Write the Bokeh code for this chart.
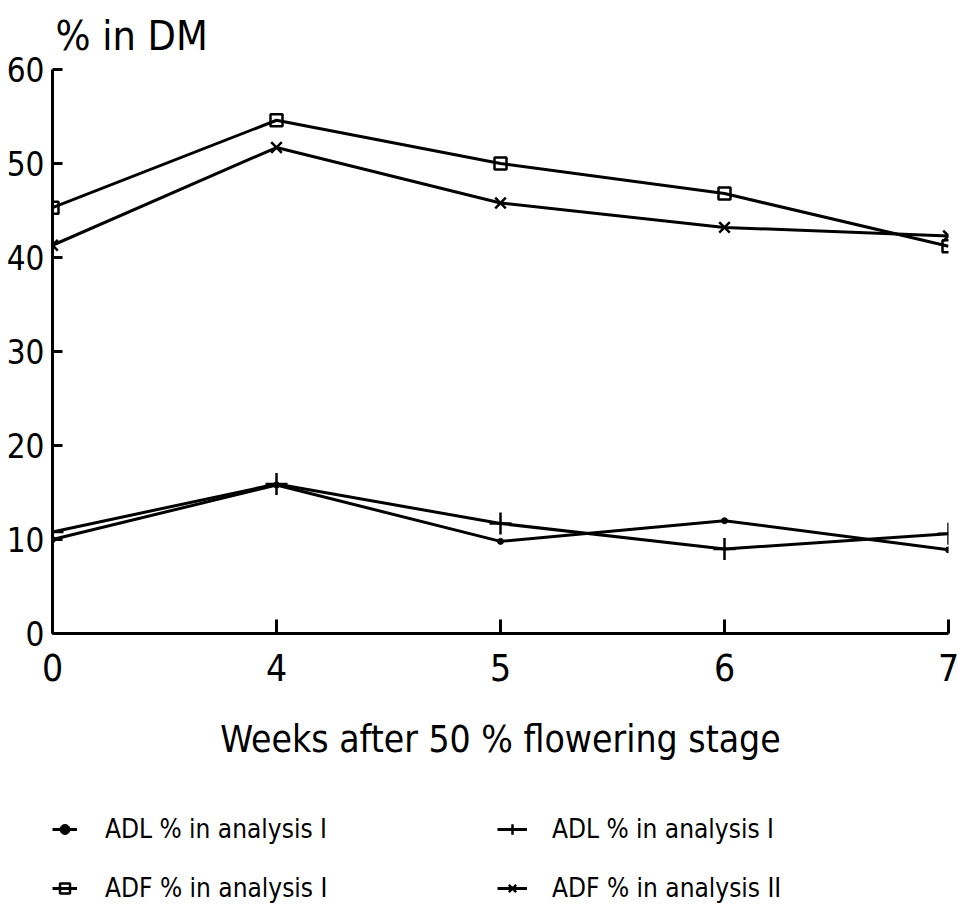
from bokeh.plotting import figure
from bokeh.layouts import column
from bokeh.models import Range1d, FixedTicker, Legend, LegendItem
from bokeh.embed import file_html
from bokeh.resources import INLINE

# ---- data ----
week_labels = ["0", "4", "5", "6", "7"]
week_pos = [0, 1, 2, 3, 4]
adl_dot = [10.0, 15.8, 9.8, 12.0, 8.9]      # ADL % in analysis I (dot)
adl_plus = [10.8, 15.9, 11.7, 9.0, 10.6]    # ADL % in analysis I (plus)
adf_i = [45.3, 54.6, 50.0, 46.8, 41.2]      # ADF % in analysis I (square)
adf_ii = [41.3, 51.7, 45.8, 43.2, 42.3]     # ADF % in analysis II (x)
y_ticks = [0, 10, 20, 30, 40, 50, 60]
series_names = ["ADL % in analysis I", "ADL % in analysis I",
                "ADF % in analysis I", "ADF % in analysis II"]

FONT = "DejaVu Sans Condensed, Liberation Sans Narrow, Liberation Sans, sans-serif"
LW = 3

p = figure(width=960, height=800, x_range=Range1d(0, 4), y_range=Range1d(0, 60),
           output_backend="svg", toolbar_location=None,
           min_border_left=52, min_border_right=12, min_border_top=68, min_border_bottom=167)
p.outline_line_color = None
p.xgrid.visible = False
p.ygrid.visible = False

p.title.text = "% in DM"
p.title.text_font = FONT
p.title.text_font_size = "41px"
p.title.text_font_style = "normal"
p.title.text_color = "black"
p.title.align = "left"
p.title.offset = 3
p.title.standoff = 19
p.title.text_line_height = 1.0

for ax in (p.xaxis[0], p.yaxis[0]):
    ax.axis_line_width = LW
    ax.axis_line_color = "black"
    ax.major_tick_line_width = LW
    ax.major_tick_line_color = "black"
    ax.major_tick_out = 0
    ax.minor_tick_line_color = None
    ax.major_label_text_font = FONT
    ax.major_label_text_color = "black"

p.yaxis.ticker = FixedTicker(ticks=y_ticks)
p.yaxis.major_tick_in = 10
p.yaxis.major_label_text_font_size = "33px"
p.yaxis.major_label_standoff = 8

p.xaxis.ticker = FixedTicker(ticks=week_pos)
p.xaxis.major_label_overrides = {i: lab for i, lab in zip(week_pos, week_labels)}
p.xaxis.major_tick_in = 14
p.xaxis.major_label_text_font_size = "37px"
p.xaxis.major_label_standoff = 20
p.xaxis.axis_label = "Weeks after 50 % flowering stage"
p.xaxis.axis_label_text_font = FONT
p.xaxis.axis_label_text_font_size = "37px"
p.xaxis.axis_label_text_font_style = "normal"
p.xaxis.axis_label_text_color = "black"
p.xaxis.axis_label_standoff = 34

STYLES = [
    dict(marker="circle", size=6, line_color="black", fill_color="black", line_width=1),
    dict(marker="cross", size=22, line_color="black", line_width=2.5),
    dict(marker="square", size=12, line_color="black", fill_alpha=0, line_width=2.5),
    dict(marker="x", size=15, line_color="black", line_width=2.5),
]
SERIES = [adl_dot, adl_plus, adf_i, adf_ii]
for vals, st in zip(SERIES, STYLES):
    p.line(week_pos, vals, line_color="black", line_width=LW)
    p.scatter(week_pos, vals, **st)

# ---- legend strip below (its own figure; series drawn out of view, only the legend shows) ----
q = figure(width=960, height=103, x_range=Range1d(0, 4), y_range=Range1d(100, 101),
           output_backend="svg", toolbar_location=None,
           min_border_left=0, min_border_right=0, min_border_top=0, min_border_bottom=0)
q.outline_line_color = None
q.xaxis.visible = False
q.yaxis.visible = False
q.xgrid.visible = False
q.ygrid.visible = False

leg_renderers = []
for vals, st in zip(SERIES, STYLES):
    ln = q.line(week_pos, vals, line_color="black", line_width=LW)
    mk = q.scatter(week_pos, vals, **st)
    leg_renderers.append([ln, mk])

def make_legend(idx, loc, gw, standoff):
    items = [LegendItem(label=series_names[i], renderers=leg_renderers[i]) for i in idx]
    return Legend(items=items, location=loc, glyph_width=gw, glyph_height=26, label_height=26,
                  label_standoff=standoff, spacing=29, padding=0, margin=0,
                  border_line_color=None, background_fill_alpha=0,
                  label_text_font=FONT, label_text_font_size="26px", label_text_color="black")

q.add_layout(make_legend([0, 2], (0, 0), 25, 28))
q.add_layout(make_legend([1, 3], (445, 0), 30, 25))

layout = column(p, q, spacing=0)
open("out.html", "w").write(file_html(layout, INLINE))
